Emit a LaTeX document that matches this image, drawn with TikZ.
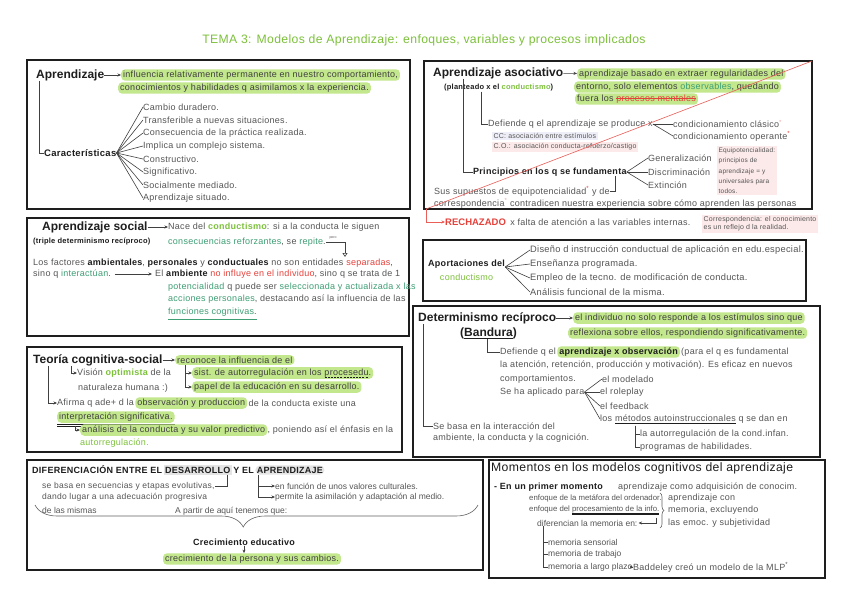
\documentclass[tikz,border=0pt]{standalone}
\usepackage{fontspec}
\setmainfont{Liberation Sans}
\newfontfamily\cuerpo{Liberation Sans}[LetterSpace=3]
\definecolor{ink}{HTML}{1E1E1E}
\definecolor{txtgray}{HTML}{555555}
\definecolor{tgreen}{HTML}{7DC13B}
\definecolor{sgreen}{HTML}{3E9E74}
\definecolor{hlgreen}{HTML}{C2E78C}
\definecolor{mred}{HTML}{E5413B}
\definecolor{pinkast}{HTML}{F2A3A3}
\definecolor{pinkbg}{HTML}{FCEAEA}
\definecolor{lavbg}{HTML}{EEEEF8}
\definecolor{greybg}{HTML}{E4E4E4}
\usetikzlibrary{positioning, arrows.meta, calc, decorations.pathreplacing}
\newcommand\negrita[1]{\textcolor{ink}{\bfseries #1}}
\newcommand\tachar[1]{\setbox0\hbox{#1}\rlap{\textcolor{mred}{\rule[0.28em]{\wd0}{0.7pt}}}\box0\relax}
\newcommand\subr[1]{\setbox0\hbox{#1}\rlap{\textcolor{ink}{\rule[-2pt]{\wd0}{0.5pt}}}\box0\relax}
\newcommand\subrdoble[1]{\setbox0\hbox{#1}\rlap{\textcolor{ink}{\rule[-1.6pt]{\wd0}{0.4pt}}}\rlap{\textcolor{ink}{\rule[-3pt]{\wd0}{0.4pt}}}\box0\relax}
\newcommand\subrpunt[1]{\setbox0\hbox{#1}\rlap{\hbox to \wd0{\xleaders\hbox to 3pt{\textcolor{ink}{\rule[-2pt]{2pt}{0.6pt}}\hss}\hfill}}\box0\relax}

\begin{document}
\begin{tikzpicture}[x=1pt, y=-1pt,
    every node/.style={font=\cuerpo\fontsize{9}{11}\selectfont, text=txtgray, inner sep=0pt, anchor=west},
    head/.style={font=\fontsize{12}{14}\selectfont\bfseries, text=ink},
    subhead/.style={font=\cuerpo\fontsize{9}{11}\selectfont\bfseries, text=ink},
    chico/.style={font=\fontsize{8.5}{10}\selectfont},
    hl/.style={fill=hlgreen, rounded corners=4pt, inner xsep=2pt, inner ysep=1.5pt, text=ink!85},
    note/.style={font=\cuerpo\fontsize{7}{8}\selectfont, inner sep=1.5pt},
    link/.style={draw=ink!85, line width=0.6pt},
    arrow/.style={link, -{Stealth[length=3.5pt, width=3pt]}},
    box/.style={draw=ink, line width=1.3pt}]
  \useasboundingbox (0,0) rectangle (848,599);
  \fill[white] (0,0) rectangle (848,599);

  \node[font=\cuerpo\fontsize{12.2}{14}\selectfont, text=tgreen, anchor=center] (title) at (424,40) {TEMA 3: Modelos de Aprendizaje: enfoques, variables y procesos implicados};

  % marcos
  \draw[box] (27,60) rectangle (410,209);
  \draw[box] (424,61) rectangle (812,209);
  \draw[box] (27,218) rectangle (409,336);
  \draw[box] (423,240) rectangle (806,301);
  \draw[box] (27,347) rectangle (402,452);
  \draw[box] (413,306) rectangle (820,457);
  \draw[box] (27,460) rectangle (483,570);
  \draw[box] (489,460) rectangle (825,578);

  % aprendizaje
  \node[head] (apr) at (36,75) {Aprendizaje};
  \node[hl] (aprdef1) at (121,75) {influencia relativamente permanente en nuestro comportamiento,};
  \node[hl] (aprdef2) at (118,88) {conocimientos y habilidades q asimilamos x la experiencia.};
  \draw[arrow] (apr) -- (aprdef1);
  \node[subhead, font=\cuerpo\fontsize{9.5}{11}\selectfont\bfseries] (car) at (44,153) {Características};
  \draw[link] ([xshift=3pt]apr.south west) |- (car.west);
  \node (c1) at (143,107) {Cambio duradero.};
  \node (c2) at (143,120) {Transferible a nuevas situaciones.};
  \node (c3) at (143,133) {Consecuencia de la práctica realizada.};
  \node (c4) at (143,146) {Implica un complejo sistema.};
  \node (c5) at (143,159) {Constructivo.};
  \node (c6) at (143,172) {Significativo.};
  \node (c7) at (143,185) {Socialmente mediado.};
  \node (c8) at (143,198) {Aprendizaje situado.};
  \draw[link] (car.east) -- (c1.west);
  \draw[link] (car.east) -- (c2.west);
  \draw[link] (car.east) -- (c3.west);
  \draw[link] (car.east) -- (c4.west);
  \draw[link] (car.east) -- (c5.west);
  \draw[link] (car.east) -- (c6.west);
  \draw[link] (car.east) -- (c7.west);
  \draw[link] (car.east) -- (c8.west);

  % aprendizaje asociativo
  \node[head] (asoc) at (433,73) {Aprendizaje asociativo};
  \node[hl] (asocdef1) at (577,74) {aprendizaje basado en extraer regularidades del};
  \node[hl] (asocdef2) at (574,87) {entorno, solo elementos \textcolor{sgreen}{observables}, quedando};
  \node[hl] (asocdef3) at (575,99) {fuera los \tachar{\textcolor{mred}{procesos mentales}}};
  \draw[arrow] (asoc) -- (asocdef1);
  \node[font=\cuerpo\fontsize{7.5}{9}\selectfont\bfseries, text=ink] (plant) at (444,88) {(planteado x el \textcolor{tgreen}{conductismo})};
  \node (defasoc) at (488,124) {Defiende q el aprendizaje se produce x};
  \draw[link] ([xshift=37pt]plant.south west) |- (defasoc.west);
  \node (clas) at (673,124) {condicionamiento clásico\textcolor{pinkast}{\textsuperscript{*}}};
  \node (oper) at (673,136) {condicionamiento operante\textcolor{mred}{\textsuperscript{*}}};
  \draw[link] (defasoc.east) -- (clas.west);
  \draw[link] (defasoc.east) -- (oper.west);
  \node[note, fill=lavbg] (cc) at (492,136) {CC: asociación entre estímulos};
  \node[note, fill=pinkbg] (co) at (492,147) {C.O.: asociación conducta-refuerzo/castigo};
  \node[subhead] (princ) at (473,172) {Principios en los q se fundamenta};
  \draw[link] ([xshift=30pt]asoc.south west) |- (princ.west);
  \node (gen) at (648,158) {Generalización};
  \node (dis) at (648,172) {Discriminación};
  \node (ext) at (648,185) {Extinción};
  \draw[link] (princ.east) -- (gen.west);
  \draw[link] (princ.east) -- (dis.west);
  \draw[link] (princ.east) -- (ext.west);
  \node[note, fill=pinkbg, anchor=north west, align=left, font=\cuerpo\fontsize{6.5}{10.3}\selectfont] (equi) at (717,146) {Equipotencialidad:\\principios de\\aprendizaje = y\\universales para\\todos.};
  \node (sus) at (434,191) {Sus supuestos de equipotencialidad\textcolor{mred}{\textsuperscript{*}} y de};
  \draw[link] (sus.east) -| ([xshift=-11pt]princ.south east);
  \node (corr) at (434,203) {correspondencia\textcolor{pinkast}{\textsuperscript{*}} contradicen nuestra experiencia sobre cómo aprenden las personas};
  \coordinate (crossA) at (812,61);
  \coordinate (crossB) at (426,209);
  \node[font=\fontsize{9.5}{11}\selectfont\bfseries, text=mred] (rech) at (445,222) {RECHAZADO};
  \node[right=4pt of rech] (rechtxt) {x falta de atención a las variables internas.};
  \draw[mred!85, line width=0.6pt] (crossA) -- (crossB);
  \draw[mred!85, line width=0.6pt, -{Stealth[length=3.5pt, width=3pt]}] (crossB) |- (rech.west);
  \node[note, fill=pinkbg, anchor=north west, align=left] (corrnote) at (702,215) {Correspondencia: el conocimiento\\es un reflejo d la realidad.};

  % aprendizaje social
  \node[head] (soc) at (42,227) {Aprendizaje social};
  \node (nace) at (168,227) {Nace del \textcolor{tgreen}{\bfseries conductismo}: si a la conducta le siguen};
  \draw[arrow] (soc) -- (nace);
  \node[font=\cuerpo\fontsize{7.5}{9}\selectfont\bfseries, text=ink] (triple) at (33,242) {(triple determinismo recíproco)};
  \node (cons) at (168,242) {\textcolor{sgreen}{consecuencias reforzantes}, se \textcolor{sgreen}{repite}.};
  \coordinate (peroend) at (345,257);
  \draw[link, -{Triangle[open, length=4pt, width=5pt]}] (cons.east) -| (peroend);
  \node[font=\fontsize{3.5}{4}\selectfont, anchor=center] (pero) at (333,238) {pero};
  \node (fact) at (33,263) {Los factores \negrita{ambientales}, \negrita{personales} y \negrita{conductuales} no son entidades \textcolor{mred}{separadas},};
  \node (sino) at (33,274) {sino q \textcolor{sgreen}{interactúan}.};
  \node (amb) at (155,274) {El \negrita{ambiente} \textcolor{mred}{no influye en el individuo}, sino q se trata de 1};
  \draw[arrow] ([xshift=4pt]sino.east) -- ([xshift=-3pt]amb.west);
  \node (pot) at (168,287) {\textcolor{sgreen}{potencialidad} q puede ser \textcolor{sgreen}{seleccionada y actualizada x las}};
  \node (acc) at (168,299) {\textcolor{sgreen}{acciones personales}, destacando así la influencia de las};
  \node (func) at (168,312) {\textcolor{sgreen}{funciones cognitivas}.};
  \draw[sgreen, line width=1pt] ([yshift=-3pt]func.south west) -- ([yshift=-3pt]func.south east);

  % aportaciones
  \node[subhead] (aport) at (428,264) {Aportaciones del};
  \node[text=tgreen, below=5pt of aport] (aportc) {conductismo};
  \node[font=\cuerpo\fontsize{9.3}{11}\selectfont] (ap1) at (530,250) {Diseño d instrucción conductual de aplicación en edu.especial.};
  \node[font=\cuerpo\fontsize{9.3}{11}\selectfont] (ap2) at (530,264) {Enseñanza programada.};
  \node[font=\cuerpo\fontsize{9.3}{11}\selectfont] (ap3) at (530,278) {Empleo de la tecno. de modificación de conducta.};
  \node[font=\cuerpo\fontsize{9.3}{11}\selectfont] (ap4) at (530,292) {Análisis funcional de la misma.};
  \draw[link] ([yshift=-3pt]aport.east) -- (ap1.west);
  \draw[link] ([yshift=-3pt]aport.east) -- (ap2.west);
  \draw[link] ([yshift=-3pt]aport.east) -- (ap3.west);
  \draw[link] ([yshift=-3pt]aport.east) -- (ap4.west);

  % teoria cognitiva-social
  \node[head] (teo) at (33,360) {Teoría cognitiva-social};
  \node[hl] (teo1) at (175,360) {reconoce la influencia de el};
  \draw[arrow] (teo) -- (teo1);
  \node (vis) at (77,373) {Visión \textcolor{tgreen}{\bfseries optimista} de la};
  \node (nat) at (78,388) {naturaleza humana :)};
  \draw[arrow] ([xshift=38pt]teo.south west) |- (vis.west);
  \node[hl] (teo2) at (192,373) {sist. de autorregulación en los \subrpunt{procesedu}.};
  \node[hl] (teo3) at (192,387) {papel de la educación en su desarrollo.};
  \draw[arrow] ([xshift=10pt]teo1.south west) |- (teo2.west);
  \draw[arrow] ([xshift=10pt]teo1.south west) |- (teo3.west);
  \node (afirma) at (57,403) {Afirma q ade+ d la};
  \node[hl, right=1pt of afirma] (obs) {observación y produccion};
  \node[right=1pt of obs] (afirma2) {de la conducta existe una};
  \draw[arrow] ([xshift=15pt]teo.south west) |- (afirma.west);
  \node[hl] (interp) at (57,417) {interpretación significativa.};
  \draw[ink, line width=0.5pt] ([yshift=-1pt]interp.south west) -- ([yshift=-1pt]interp.south east);
  \draw[ink, line width=0.5pt] ([yshift=-2.8pt]interp.south west) -- ([yshift=-2.8pt]interp.south east);
  \node[hl] (anal) at (80,430) {análisis de la conducta y su valor predictivo};
  \node[right=0pt of anal] (anal2) {, poniendo así el énfasis en la};
  \draw[arrow] ([xshift=18pt,yshift=-3pt]interp.south west) |- (anal.west);
  \node[text=tgreen] (autor) at (80,443) {autorregulación.};

  % determinismo reciproco
  \node[head] (det) at (418,318) {Determinismo recíproco};
  \node[hl] (det1) at (573,318) {el individuo no solo responde a los estímulos sino que};
  \node[hl] (det2) at (568,333) {reflexiona sobre ellos, respondiendo significativamente.};
  \draw[arrow] (det) -- (det1);
  \node[head] (band) at (460,333) {(\subr{Bandura})};
  \node (def2a) at (500,352) {Defiende q el};
  \node[hl, subhead, right=1pt of def2a] (def2b) {aprendizaje x observación};
  \node[right=1pt of def2b] (def2c) {(para el q es fundamental};
  \draw[link] ([xshift=27pt]band.south west) |- (def2a.west);
  \node (aten) at (500,365) {la atención, retención, producción y motivación). Es eficaz en nuevos};
  \node (comp) at (500,379) {comportamientos.};
  \node (apl) at (500,392) {Se ha aplicado para};
  \node (mod) at (602,379) {el modelado};
  \node (rol) at (600,392) {el roleplay};
  \node (feed) at (600,406) {el feedback};
  \node (met) at (600,419) {los \subr{métodos autoinstruccionales} q se dan en};
  \draw[link] (apl.east) -- (mod.west);
  \draw[link] (apl.east) -- (rol.west);
  \draw[link] (apl.east) -- (feed.west);
  \draw[link] (apl.east) -- (met.west);
  \node (autoc) at (640,434) {la autorregulación de la cond.infan.};
  \node (prog) at (640,447) {programas de habilidades.};
  \draw[link] ([xshift=35pt,yshift=-2pt]met.south west) |- (autoc.west);
  \draw[link] ([xshift=35pt,yshift=-2pt]met.south west) |- (prog.west);
  \node (basa) at (433,426) {Se basa en la interacción del};
  \node (basa2) at (433,438) {ambiente, la conducta y la cognición.};
  \draw[link] ([xshift=5pt]det.south west) |- (basa.west);

  % desarrollo y aprendizaje
  \node[subhead] (difa) at (32,470) {DIFERENCIACIÓN ENTRE EL};
  \node[subhead, fill=greybg, inner sep=1.5pt, right=1pt of difa] (desa) {DESARROLLO};
  \node[subhead, right=1pt of desa] (difb) {Y EL};
  \node[subhead, fill=greybg, rounded corners=5pt, inner sep=1.5pt, right=1pt of difb] (apre) {APRENDIZAJE};
  \node[font=\cuerpo\fontsize{8.5}{10}\selectfont] (seb) at (42,486) {se basa en secuencias y etapas evolutivas,};
  \node[font=\cuerpo\fontsize{8.5}{10}\selectfont] (dando) at (42,497) {dando lugar a una adecuación progresiva};
  \node[chico] (delas) at (42,510) {de las mismas};
  \draw[link] ([xshift=-5pt]desa.south east) |- (seb.east);
  \node[chico] (funcul) at (275,486) {en función de unos valores culturales.};
  \node[chico] (perm) at (275,497) {permite la asimilación y adaptación al medio.};
  \draw[arrow] ([xshift=3pt]apre.south west) |- (funcul.west);
  \draw[arrow] ([xshift=3pt]apre.south west) |- (perm.west);
  \node[chico] (apart) at (175,511) {A partir de aquí tenemos que:};
  \coordinate (braceL) at (35,505);
  \coordinate (braceR) at (478,505);
  \draw[ink!70, line width=0.6pt, decorate, decoration={brace, mirror, amplitude=22pt, aspect=0.47}] (braceL) -- (braceR);
  \node[subhead, anchor=center] (crec) at (244,542) {Crecimiento educativo};
  \node[hl, anchor=center] (crec2) at (252,559) {crecimiento de la persona y sus cambios.};
  \draw[arrow] (crec.south -| 244,0) -- (crec2.north -| 244,0);

  % momentos
  \node[font=\cuerpo\fontsize{12.2}{14}\selectfont, text=ink] (mom) at (491,468) {Momentos en los modelos cognitivos del aprendizaje};
  \node[subhead] (prim) at (494,487) {- En un primer momento};
  \node (adq) at (618,487) {aprendizaje como adquisición de conocim.};
  \node[font=\fontsize{7.8}{9}\selectfont] (enf1) at (529,498) {enfoque de la metáfora del ordenador.};
  \node[font=\fontsize{7.8}{9}\selectfont] (enf2) at (529,510) {enfoque del \subrdoble{procesamiento de la info.}};
  \coordinate (braceT) at (660,493);
  \coordinate (braceB) at (660,528);
  \draw[ink!70, line width=0.6pt, decorate, decoration={brace, amplitude=4pt}] (braceT) -- (braceB);
  \node (apm1) at (668,498) {aprendizaje con};
  \node (apm2) at (668,510) {memoria, excluyendo};
  \node (apm3) at (668,523) {las emoc. y subjetividad};
  \node[chico] (difm) at (537,523) {diferencian la memoria en:};
  \draw[arrow] ([xshift=-3pt,yshift=-3pt]enf2.south east) |- ([xshift=1pt]difm.east);
  \node[chico] (ms) at (548,542) {memoria sensorial};
  \node[chico] (mt) at (548,554) {memoria de trabajo};
  \node[chico] (ml) at (548,567) {memoria a largo plazo};
  \draw[link] ([xshift=6pt]difm.south west) |- (ms.west);
  \draw[link] ([xshift=6pt]difm.south west) |- (mt.west);
  \draw[link] ([xshift=6pt]difm.south west) |- (ml.west);
  \node (badd) at (633,567) {Baddeley creó un modelo de la MLP\textsuperscript{*}};
  \draw[arrow] (ml) -- (badd);
\end{tikzpicture}
\end{document}
